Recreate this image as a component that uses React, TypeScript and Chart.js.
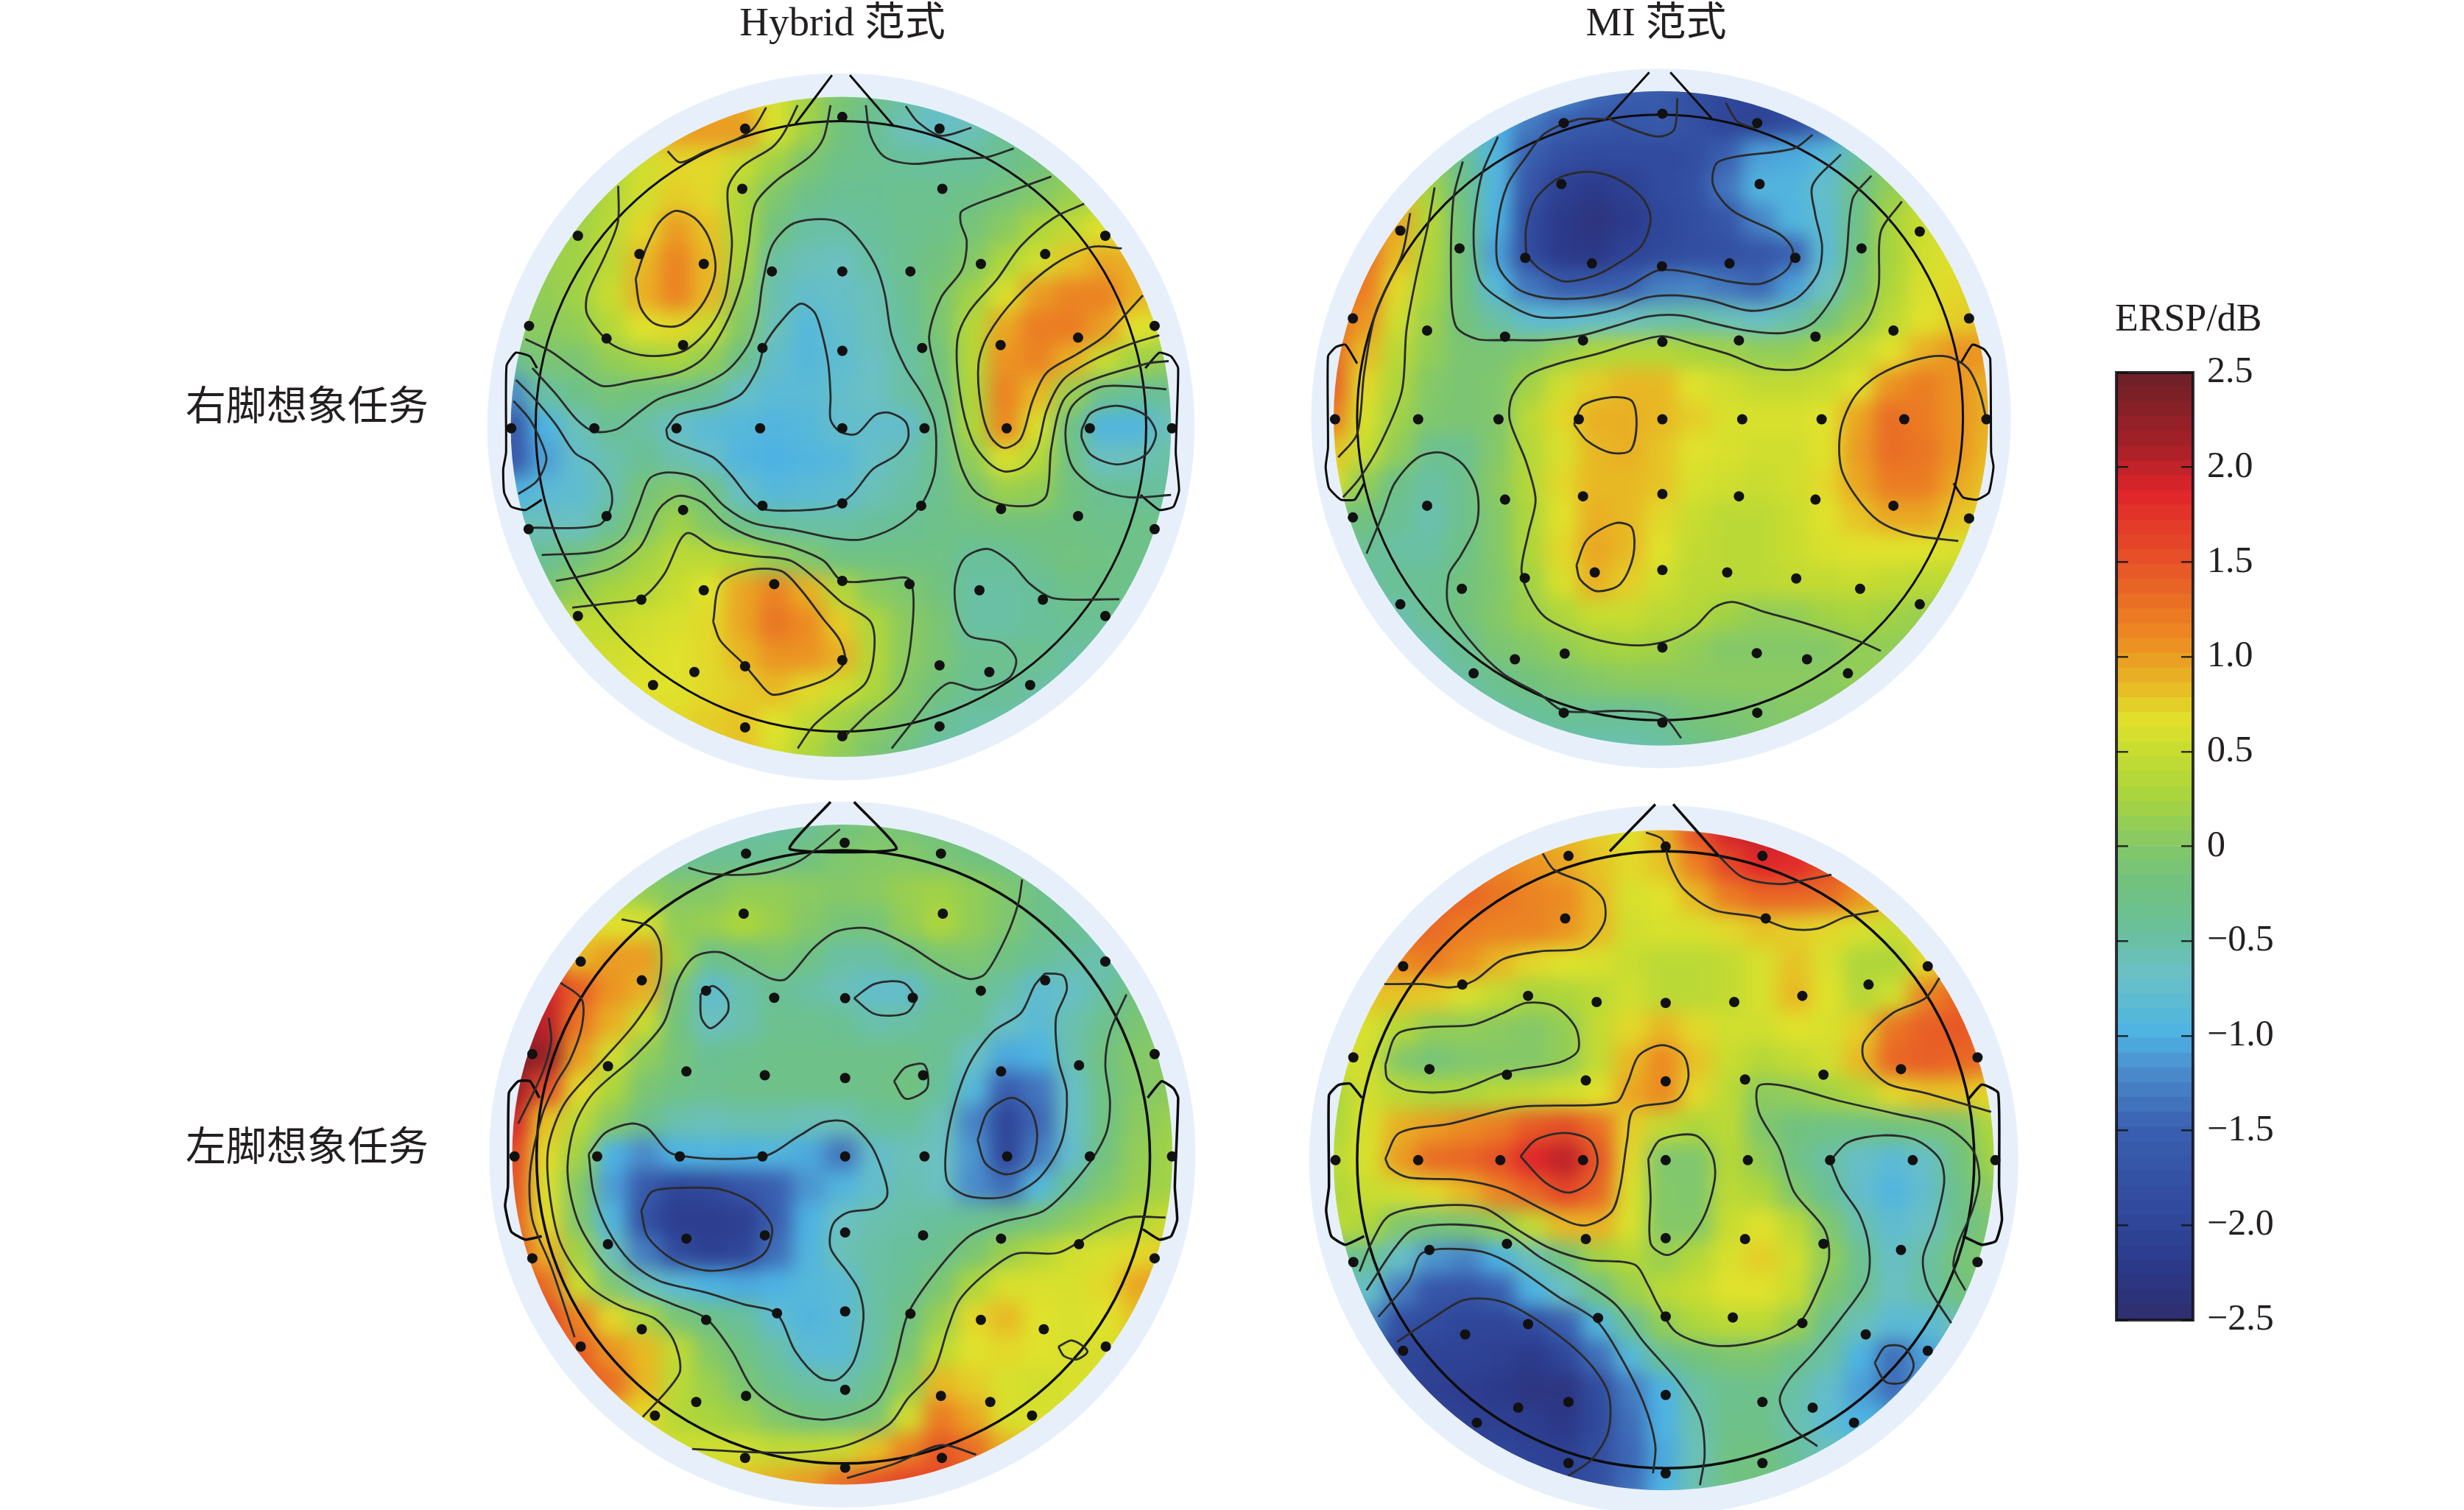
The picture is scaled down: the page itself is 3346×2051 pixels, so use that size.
import React, { useEffect, useRef } from "react";
import { Chart, registerables } from "chart.js";
Chart.register(...registerables);

/* ---------- ERSP values (dB), 21 x 21 samples ---------- */
const hybridRightErsp = [
[.8,.8,.8,.8,.8,.9,.9,.9,.6,.2,-.1,-.3,-.5,-.7,-.7,-.5,-.4,-.4,-.4,-.4,-.4],
[.5,.5,.5,.6,.8,1,1,1,.6,.2,-.2,-.4,-.6,-.7,-.6,-.4,-.3,-.2,-.2,-.2,-.2],
[.2,.2,.2,.3,.55,.7,.7,.5,.2,-.1,-.3,-.35,-.45,-.45,-.45,-.35,-.2,0,.1,.1,.1],
[.1,.1,.1,.35,.55,.75,.7,.3,-.05,-.3,-.4,-.4,-.35,-.35,-.3,-.15,0,.15,.3,.3,.3],
[0,.1,.2,.4,.7,1,.8,.3,-.2,-.5,-.5,-.45,-.35,-.3,-.15,.05,.3,.45,.65,.7,.7],
[.1,.15,.2,.4,.85,1.15,.85,.25,-.5,-.6,-.65,-.5,-.35,-.2,0,.3,.55,.8,.95,.9,.8],
[.1,.1,.2,.5,.9,1.15,.85,.1,-.55,-.75,-.7,-.6,-.4,-.1,.2,.6,1,1.15,1.15,.9,.7],
[.1,.05,.1,.35,.65,.7,.5,0,-.6,-.9,-.75,-.6,-.45,-.1,.35,.95,1.2,1.2,1,.65,.55],
[-.4,-.1,-.1,.1,.2,.25,.1,-.3,-.75,-.9,-.8,-.65,-.5,-.2,.35,1.05,1.15,.9,.5,.2,.1],
[-1.2,-.5,-.3,-.15,-.2,-.3,-.4,-.7,-.85,-.85,-.75,-.65,-.5,-.3,.3,1.15,.85,.15,-.3,-.45,-.4],
[-1.7,-1,-.6,-.4,-.5,-.7,-.85,-.9,-.95,-.9,-.75,-.75,-.75,-.35,.3,1.1,.6,-.25,-.95,-.95,-.6],
[-1.7,-1.1,-.75,-.55,-.4,-.55,-.7,-.95,-1,-.95,-.9,-.7,-.55,-.35,.1,.6,.35,-.25,-.65,-.6,-.5],
[-1,-.85,-.8,-.55,-.15,0,-.2,-.7,-.9,-.85,-.8,-.6,-.5,-.35,-.1,.15,.1,-.2,-.4,-.45,-.45],
[-.6,-.6,-.65,-.4,-.05,.2,0,-.3,-.45,-.5,-.5,-.45,-.4,-.3,-.25,-.2,-.2,-.25,-.3,-.3,-.3],
[-.4,-.4,-.2,0,.2,.4,.4,.3,.1,-.05,-.25,-.25,-.25,-.25,-.45,-.45,-.3,-.2,-.25,-.3,-.3],
[-.1,-.1,.1,.25,.35,.5,.65,.95,1.15,.9,.35,.05,-.05,-.2,-.5,-.5,-.45,-.3,-.3,-.3,-.3],
[.4,.4,.45,.45,.55,.6,.7,.95,1.25,1.1,.75,.3,.05,-.1,-.5,-.5,-.45,-.4,-.4,-.4,-.4],
[.5,.5,.5,.55,.6,.65,.7,.85,1.05,1.05,.9,.35,.05,-.1,-.35,-.35,-.35,-.5,-.5,-.5,-.5],
[.6,.6,.6,.6,.65,.65,.7,.75,.85,.7,.55,.3,0,-.2,-.4,-.4,-.5,-.5,-.5,-.5,-.5],
[.7,.7,.7,.7,.7,.7,.75,.8,.65,.45,.2,.05,-.1,-.4,-.5,-.5,-.5,-.5,-.5,-.5,-.5],
[.7,.7,.7,.7,.7,.7,.75,.8,.6,.3,.1,-.1,-.3,-.5,-.5,-.5,-.5,-.5,-.5,-.5,-.5],
];
const miRightErsp = [
[-1,-1,-1,-1,-1,-1,-1,-1.1,-1.4,-1.5,-1.6,-1.8,-2,-2,-1.9,-1.5,-1,-.6,-.3,0,0],
[.5,.5,.3,-.3,-.7,-1,-1.3,-1.5,-1.65,-1.7,-1.6,-1.8,-2,-2.05,-1.9,-1.5,-1,-.5,-.2,0,0],
[.9,.9,.7,.1,-.4,-.95,-1.5,-1.8,-1.9,-1.9,-1.9,-1.85,-1.5,-1.1,-1.05,-.9,-.5,-.05,.2,.3,.3],
[1.3,1.1,.8,.2,-.3,-.95,-1.7,-2.1,-2.2,-2.1,-1.9,-1.8,-1.35,-.95,-.95,-.75,-.3,.1,.4,.5,.5],
[1.4,1.25,.95,.35,-.2,-1,-1.9,-2.2,-2.35,-2.2,-2,-1.85,-1.7,-1.25,-.95,-.8,-.3,.25,.5,.6,.6],
[1.5,1.3,.85,.3,-.2,-1.1,-1.9,-2.2,-2.25,-2.05,-1.95,-1.85,-1.8,-1.7,-1.5,-.85,-.2,.25,.55,.65,.7],
[1.4,1.2,.7,.25,-.2,-.9,-1.35,-1.6,-1.6,-1.5,-1.3,-1.25,-1.35,-1.45,-1.1,-.65,-.1,.3,.6,.7,.7],
[1.3,1.05,.55,.15,-.2,-.5,-.8,-.85,-.75,-.65,-.55,-.5,-.6,-.7,-.55,-.2,.1,.4,.65,.75,.8],
[1.3,.85,.4,.1,-.1,-.1,0,.15,.3,.35,.35,.25,.2,.1,.1,.25,.45,.65,.9,1.05,1.05],
[1.4,.7,.3,0,-.1,-.05,.2,.55,.75,.85,.85,.65,.55,.45,.45,.5,.65,1.05,1.2,1.05,.9],
[1.2,.6,.2,-.05,-.1,-.05,.4,.7,.9,.9,.85,.75,.6,.6,.6,.65,.95,1.3,1.2,1.05,.9],
[.8,.5,.1,-.35,-.35,0,.35,.6,.85,.9,.8,.65,.6,.55,.55,.65,1,1.3,1.25,1.05,.85],
[.6,.1,-.3,-.5,-.35,.05,.35,.7,.85,.85,.8,.6,.55,.5,.55,.7,.95,1.2,1.2,.95,.8],
[-.2,-.2,-.4,-.55,-.35,0,.3,.65,.9,.85,.7,.5,.4,.4,.5,.65,.8,.95,.95,.8,.7],
[-.4,-.4,-.5,-.5,-.3,0,.3,.7,.95,.85,.65,.45,.4,.4,.5,.6,.65,.65,.65,.6,.6],
[-.5,-.5,-.4,-.4,-.2,-.05,.2,.6,.9,.75,.55,.4,.4,.4,.45,.45,.5,.45,.4,.4,.4],
[-.6,-.6,-.55,-.4,-.2,0,.15,.3,.5,.5,.4,.35,.2,.1,.1,.2,.25,.2,.15,.15,.15],
[-.6,-.6,-.6,-.55,-.4,-.1,0,.1,.2,.25,.2,.1,0,0,0,0,.1,.1,.1,.1,.1],
[-.6,-.6,-.6,-.6,-.5,-.35,-.2,-.1,0,.05,.05,.05,.05,.05,.05,.05,.1,.1,.1,.1,.1],
[-.6,-.6,-.6,-.6,-.6,-.5,-.45,-.4,-.4,-.4,-.35,-.15,-.1,-.05,0,0,0,0,0,0,0],
[-.6,-.6,-.6,-.6,-.6,-.6,-.6,-.55,-.55,-.55,-.5,-.3,-.2,-.1,0,0,0,0,0,0,0],
];
const hybridLeftErsp = [
[-.4,-.4,-.4,-.4,-.4,-.4,-.4,-.5,-.5,-.4,-.2,-.1,-.15,-.25,-.3,-.3,-.3,-.3,-.3,-.3,-.3],
[-.2,-.2,-.2,-.2,-.3,-.4,-.4,-.4,-.35,-.2,-.05,0,0,-.1,-.2,-.3,-.35,-.35,-.3,-.3,-.3],
[.3,.3,.3,.3,.1,0,0,.1,.1,.05,0,.05,.15,.2,.1,-.05,-.3,-.4,-.4,-.4,-.4],
[.7,.7,.7,.65,.6,.1,.15,.3,.15,0,-.15,-.15,.1,.3,.1,-.05,-.3,-.4,-.4,-.4,-.4],
[1.1,1,.85,1,1,.2,-.3,-.2,-.1,-.25,-.5,-.5,-.3,-.1,-.05,-.25,-.4,-.5,-.55,-.4,-.3],
[2,1.9,1.4,1.05,.9,-.1,-.8,-.55,-.4,-.5,-.6,-.75,-.75,-.45,-.35,-.5,-.8,-.7,-.5,-.2,-.1],
[2.1,2,1.25,.9,.5,-.2,-.65,-.55,-.35,-.35,-.4,-.55,-.5,-.4,-.4,-.65,-.85,-.55,-.35,-.1,0],
[2.4,2.2,1,.55,.1,-.15,-.4,-.35,-.3,-.3,-.3,-.3,-.3,-.4,-.65,-1.05,-1,-.55,-.2,0,.05],
[2.2,1.6,.7,.3,-.1,-.25,-.35,-.3,-.3,-.3,-.3,-.3,-.2,-.45,-.9,-1.55,-1.35,-.7,-.25,0,.05],
[1.9,.8,.4,.05,-.3,-.55,-.6,-.55,-.55,-.6,-.6,-.45,-.45,-.6,-1.25,-2,-1.45,-.7,-.25,.05,.15],
[1.6,.7,.2,-1,-1.2,-1,-.95,-1,-.95,-1.05,-1.35,-.75,-.6,-.65,-1.15,-2,-1.3,-.75,-.2,.1,.2],
[1.5,.6,0,-1.1,-1.6,-2,-1.95,-1.7,-1.5,-1.15,-.95,-.75,-.55,-.65,-1.2,-1.4,-.9,-.4,-.05,.15,.2],
[1.4,.7,-.05,-.95,-1.8,-2.15,-2.15,-2.1,-1.55,-1,-.65,-.55,-.5,-.45,-.4,-.3,-.15,.05,.2,.35,.5],
[1.5,.9,.2,-.6,-1.3,-1.9,-2.1,-2,-1.4,-.95,-.6,-.5,-.45,-.35,-.1,.15,.35,.55,.6,.7,.75],
[1.7,1.3,.5,-.05,-.6,-.85,-1,-1.05,-1,-.9,-.85,-.5,-.4,-.1,.3,.6,.6,.6,.7,.95,1],
[1.8,1.6,1.15,.7,.3,-.1,-.3,-.45,-.8,-.95,-.85,-.5,-.25,.15,.7,.85,.65,.6,.65,.8,.9],
[1.7,1.5,1.4,1.05,.85,.45,0,-.25,-.5,-.85,-.85,-.5,-.1,.4,.65,.7,.65,.6,.6,.6,.6],
[1.5,1.5,1.5,1.3,.85,.4,.15,-.1,-.35,-.5,-.55,-.35,.1,.85,.75,.6,.55,.6,.6,.6,.6],
[.8,.8,.8,.8,.7,.35,.25,.15,-.05,-.2,-.25,-.1,.55,1.2,.95,.6,.6,.6,.6,.6,.6],
[.6,.6,.6,.6,.6,.55,.55,.55,.45,.45,.5,.8,1.15,1.45,1.3,.9,.7,.6,.6,.6,.6],
[.6,.6,.6,.6,.6,.6,.7,.8,.9,1,1.3,1.5,1.6,1.6,1.4,1,.7,.6,.6,.6,.6],
];
const miLeftErsp = [
[.9,.9,.9,.9,.9,.9,.9,.85,.75,.65,.9,1.5,1.9,2,1.9,1.7,1.5,1.4,1.4,1.4,1.4],
[1.2,1.2,1.2,1.2,1.25,1.15,1.05,.95,.8,.7,.8,1.2,1.6,1.85,1.8,1.55,1.4,1.3,1.3,1.3,1.3],
[1.4,1.4,1.4,1.4,1.35,1.25,1.15,1.1,.85,.6,.65,.85,1.2,1.35,1.35,1.3,1.05,.8,.7,.7,.7],
[1.4,1.4,1.4,1.3,1.2,1.15,1.15,1.05,.85,.55,.6,.6,.7,.8,.75,.7,.6,.5,.7,.9,.9],
[1,1.1,1.1,1.2,1.05,.85,.7,.65,.6,.5,.4,.4,.45,.6,.8,.6,.3,.3,.7,1,1],
[.8,.8,.8,.75,.6,.45,.25,.3,.4,.55,.4,.4,.45,.6,.85,.65,.35,.55,1.15,1.35,1.3],
[.6,.6,.35,.1,.1,.05,0,.1,.45,.7,.85,.7,.55,.55,.65,.6,.75,1.25,1.4,1.45,1.4],
[.6,.55,0,-.15,-.05,0,0,.1,.45,.85,1.1,.8,.5,.35,.45,.55,.85,1.35,1.4,1.35,1.25],
[.3,.55,.4,.3,.3,.4,.45,.55,.65,.95,1.1,.7,.4,.05,.1,.2,.35,.7,.8,.8,.7],
[.3,.6,.9,1,1.1,1.2,1.45,1.55,1.3,.75,.45,.3,.4,-.05,-.2,-.25,-.25,-.2,-.15,-.1,.3],
[.4,.6,1,1.3,1.35,1.5,1.85,2,1.5,.7,-.05,-.05,.35,.1,-.25,-.5,-.7,-.85,-.7,-.2,.2],
[.3,.5,.55,.7,.85,1.15,1.35,1.6,1.35,.6,0,-.05,.4,.3,-.05,-.4,-.75,-.95,-.75,-.3,.05],
[.4,.3,-.05,-.15,-.1,.1,.45,.85,.9,.6,0,0,.5,.65,.4,-.05,-.55,-.8,-.65,-.3,-.1],
[-.4,-.4,-.7,-1.15,-1.25,-1,-.6,-.2,.2,.35,.15,.35,.6,.75,.55,.1,-.35,-.7,-.5,-.15,0],
[-.7,-.7,-1.3,-1.7,-1.75,-1.5,-1,-.65,-.25,.15,.4,.5,.65,.65,.5,-.05,-.35,-.65,-.5,-.2,-.1],
[-1,-1.2,-1.85,-1.9,-2,-2,-1.9,-1.5,-.95,-.4,.1,.3,.4,.4,.15,-.35,-.6,-.85,-.85,-.6,-.3],
[-1.9,-1.9,-2,-2.05,-2.05,-2.1,-2.2,-2,-1.4,-.9,-.4,-.2,-.1,-.1,-.3,-.5,-1,-1.4,-1.1,-.8,-.8],
[-2,-2,-2.05,-2.1,-2.15,-2.2,-2.3,-2.3,-1.9,-1.3,-1,-.5,-.35,-.3,-.5,-.75,-1.1,-1.4,-1.2,-1,-1],
[-2,-2,-2,-2,-2.1,-2.1,-2.15,-2.25,-1.95,-1.4,-1,-.55,-.3,-.3,-.55,-.8,-1,-1,-1,-1,-1],
[-2,-2,-2,-2,-2,-2,-2.05,-2.1,-1.85,-1.45,-1.05,-.6,-.25,-.2,-.45,-.6,-.7,-.7,-.7,-.7,-.7],
[-2,-2,-2,-2,-2,-2,-2,-2,-1.8,-1.4,-1,-.55,-.25,-.2,-.4,-.5,-.6,-.6,-.6,-.6,-.6],
];

/* ---------- electrodes, in head-map units ---------- */
const hybridRightElectrodes = [[790,155],[583,180],[997,180],[577,308],[1003,308],[227,408],[1350,408],[358,447],[1222,447],[495,468],[1085,468],[640,484],[790,484],[935,484],[123,600],[1455,600],[288,627],[1292,625],[451,641],[1127,641],[620,647],[790,653],[960,647],[85,818],[262,818],[437,818],[615,818],[790,818],[965,818],[1140,818],[1317,818],[1492,818],[451,992],[620,983],[790,978],[958,983],[1128,990],[288,1005],[1292,1005],[122,1033],[1455,1033],[790,1143],[933,1150],[645,1150],[495,1163],[1082,1163],[362,1183],[1217,1183],[227,1218],[1350,1218],[790,1312],[583,1325],[997,1323],[475,1337],[1103,1337],[387,1365],[1190,1365],[583,1455],[997,1453],[790,1474]];
const miRightElectrodes = [[780,148],[570,168],[982,168],[565,298],[987,298],[222,397],[1328,399],[348,435],[1204,435],[488,455],[1063,455],[630,467],[779,473],[923,467],[121,584],[1433,584],[279,610],[1272,610],[445,623],[1106,623],[611,631],[780,634],[943,631],[83,799],[260,799],[431,799],[602,799],[780,799],[950,799],[1119,799],[1295,799],[1470,799],[445,970],[611,963],[780,958],[943,963],[1106,970],[279,983],[1272,983],[121,1008],[1433,1010],[780,1120],[918,1125],[487,1137],[636,1125],[1065,1138],[353,1160],[1201,1160],[222,1193],[1328,1193],[780,1285],[572,1298],[981,1297],[466,1310],[1088,1310],[378,1340],[1175,1340],[570,1424],[982,1424],[780,1445]];
const hybridLeftElectrodes = [[795,147],[585,170],[1000,170],[580,298],[1004,298],[233,400],[1350,400],[363,440],[1222,440],[500,462],[1085,462],[645,477],[796,478],[940,477],[130,597],[1455,597],[291,623],[1294,621],[458,634],[1128,634],[625,642],[796,648],[962,642],[92,815],[268,815],[444,815],[620,815],[796,815],[965,815],[1141,815],[1317,815],[1492,815],[458,990],[625,983],[796,977],[962,983],[1128,990],[291,1002],[1294,1002],[130,1032],[1455,1032],[796,1145],[935,1150],[651,1149],[500,1163],[1085,1163],[363,1183],[1219,1183],[233,1220],[1351,1220],[796,1312],[585,1325],[1000,1325],[479,1338],[1105,1338],[391,1367],[1194,1367],[583,1457],[1002,1457],[796,1478]];
const miLeftElectrodes = [[787,155],[580,175],[993,175],[573,308],[1000,308],[228,410],[1345,410],[354,449],[1219,449],[494,473],[1078,473],[640,486],[787,488],[933,486],[122,604],[1451,604],[284,629],[1288,629],[449,641],[1123,641],[617,653],[787,655],[956,651],[84,823],[260,823],[435,823],[611,823],[787,823],[962,823],[1137,823],[1313,823],[1489,823],[449,1001],[617,991],[787,989],[956,991],[1123,1001],[284,1014],[1288,1014],[122,1040],[1451,1040],[787,1156],[930,1158],[643,1159],[494,1172],[1078,1170],[360,1194],[1213,1194],[228,1229],[1345,1229],[787,1323],[580,1338],[993,1338],[473,1350],[1100,1350],[385,1382],[1188,1382],[580,1468],[993,1468],[787,1490]];

/* ---------- iso-contours, in head-map units ---------- */
const hybridRightContours = [
[[418,228],[445,252],[500,228],[560,205],[600,180],[628,135]],
[[313,302],[312,380],[285,450],[248,530],[245,570],[262,600],[300,640],[360,662],[420,662],[462,648],[510,600],[540,540],[550,480],[555,420],[546,310],[575,262],[640,220],[665,190],[695,130]],
[[115,628],[170,655],[225,695],[280,728],[345,718],[440,700],[495,668],[540,600],[575,510],[590,430],[605,340],[650,290],[720,240],[750,200],[765,130]],
[[130,690],[180,745],[225,800],[262,825],[310,820],[350,790],[400,755],[480,730],[545,695],[590,640],[610,580],[620,510],[640,430],[680,385],[730,373],[780,378],[820,410],[860,470],[880,530],[895,620],[925,690],[960,745],[985,800],[990,850],[985,920],[955,985],[900,1030],[830,1055],[770,1052],[690,1035],[600,1020],[540,985],[480,925],[420,912],[380,925],[355,985],[325,1050],[270,1080],[150,1088]],
[[125,1030],[270,1025],[298,985],[295,940],[260,895],[220,870],[180,810],[130,750],[95,715]],
[[90,760],[125,800],[150,850],[160,885],[140,930],[100,958]],
[[415,820],[440,790],[520,770],[575,745],[610,690],[625,640],[660,590],[700,553],[730,570],[745,610],[760,680],[765,750],[765,800],[785,825],[820,830],[860,790],[890,785],[925,805],[930,840],[905,875],[855,905],[810,960],[770,985],[700,993],[620,990],[590,965],[555,920],[515,880],[450,855],[420,840],[415,820]],
[[180,1143],[225,1135],[300,1115],[360,1070],[400,990],[440,962],[490,975],[540,1020],[600,1050],[680,1070],[750,1100],[790,1143],[880,1140],[933,1140],[940,1230],[915,1360],[840,1430],[790,1480]],
[[215,1200],[300,1190],[362,1180],[410,1130],[458,1042],[520,1075],[600,1090],[680,1100],[740,1145],[790,1190],[850,1230],[858,1290],[840,1360],[790,1400],[730,1450],[695,1500]],
[[515,1230],[530,1150],[590,1120],[660,1122],[700,1160],[750,1225],[785,1270],[795,1315],[760,1350],[690,1375],[640,1385],[605,1350],[580,1320],[530,1270],[515,1230]],
[[895,1500],[950,1430],[990,1380],[1020,1360],[1080,1375],[1145,1350],[1160,1310],[1130,1275],[1060,1260],[1035,1215],[1030,1150],[1050,1095],[1100,1075],[1150,1105],[1190,1150],[1240,1180],[1380,1182]],
[[840,130],[850,195],[880,240],[940,255],[1030,245],[1100,240],[1155,222]],
[[925,132],[950,165],[1000,195],[1065,178]],
[[1235,282],[1130,320],[1045,355],[1042,380],[1055,420],[1045,480],[1000,540],[975,620],[985,680],[1010,760],[1025,830],[1045,905],[1075,955],[1130,980],[1195,982],[1225,960],[1235,860],[1260,760],[1310,720],[1440,680],[1485,675]],
[[1305,340],[1240,370],[1170,430],[1120,500],[1060,570],[1035,630],[1040,740],[1065,840],[1100,890],[1135,910],[1175,900],[1205,860],[1225,780],[1260,715],[1320,675],[1400,640],[1465,620]],
[[1385,435],[1320,432],[1240,470],[1160,540],[1100,620],[1080,680],[1085,770],[1105,835],[1135,860],[1170,840],[1195,760],[1225,700],[1290,660],[1350,620],[1430,535]],
[[1480,735],[1420,730],[1340,730],[1280,770],[1265,830],[1280,900],[1330,945],[1400,965],[1490,960]],
[[1300,820],[1320,785],[1375,770],[1435,790],[1458,830],[1435,875],[1375,895],[1320,875],[1300,840],[1300,820]],
[[350,500],[370,440],[400,380],[435,355],[475,370],[505,410],[520,470],[510,520],[480,570],[440,600],[390,595],[360,560],[350,500]],
];
const miRightContours = [
[[430,197],[395,280],[378,400],[390,500],[430,540],[510,580],[600,580],[680,565],[745,540],[810,535],[880,545],[970,568],[1060,545],[1110,490],[1120,430],[1105,360],[1100,300],[1160,235]],
[[355,250],[335,330],[330,500],[340,600],[385,628],[445,630],[530,630],[610,620],[680,600],[750,580],[820,578],[890,595],[960,610],[1040,615],[1105,590],[1165,490],[1185,330],[1225,280]],
[[295,305],[280,390],[255,500],[235,610],[225,740],[180,850],[135,925],[100,965]],
[[243,360],[225,450],[170,570],[145,700],[130,830],[90,880]],
[[1290,335],[1245,400],[1240,520],[1215,590],[1150,650],[1080,690],[1000,690],[920,660],[850,640],[780,622],[720,635],[640,660],[560,680],[495,705],[460,750],[455,800],[490,890],[510,970],[495,1040],[480,1120],[495,1170],[530,1220],[600,1255],[670,1275],[740,1280],[800,1268],[850,1240],[890,1200],[930,1188],[1000,1210],[1090,1235],[1195,1270],[1245,1292]],
[[1100,193],[1060,222],[900,250],[888,300],[930,355],[1030,405],[1058,440],[1045,480],[990,510],[920,505],[830,485],[770,482],[700,520],[620,540],[530,540],[470,520],[430,470],[430,380],[450,300],[490,240],[530,190],[600,160],[660,160]],
[[490,450],[490,390],[510,330],[560,285],[620,272],[680,285],[735,325],[755,370],[735,430],[680,470],[630,495],[570,505],[520,480],[490,450]],
[[660,155],[700,175],[770,197],[805,182],[812,115]],
[[915,125],[940,165],[980,180]],
[[592,810],[610,770],[670,752],[715,760],[725,810],[712,865],[670,870],[620,845],[592,810]],
[[597,1110],[620,1055],[680,1020],[715,1030],[718,1090],[690,1150],[640,1165],[605,1140],[597,1110]],
[[1410,1058],[1310,1045],[1240,1015],[1190,960],[1160,900],[1160,820],[1190,750],[1240,705],[1320,672],[1385,665],[1430,690],[1455,740],[1470,800]],
[[150,1085],[185,1000],[210,935],[260,880],[310,870],[355,895],[385,950],[385,1020],[350,1090],[325,1130],[325,1200],[370,1270],[440,1340],[520,1385],[570,1420],[700,1420],[780,1430],[820,1478]],
];
const hybridLeftContours = [
[[1478,945],[1400,945],[1330,975],[1250,1020],[1160,1022],[1100,1060],[1040,1120],[1015,1180],[985,1270],[930,1330],[890,1385],[800,1430],[700,1445],[600,1445],[470,1438]],
[[1395,470],[1360,550],[1350,620],[1360,700],[1350,770],[1300,850],[1220,930],[1130,955],[1060,985],[990,1060],[930,1150],[900,1260],[860,1340],[760,1375],[670,1360],[600,1310],[555,1230],[500,1160],[430,1130],[360,1100],[290,1050],[230,960],[205,850],[220,750],[260,680],[350,600],[410,530],[440,440],[475,390],[530,380],[590,410],[640,437],[670,437],[730,370],[780,335],[850,330],[930,365],[1000,410],[1060,437],[1095,425],[1140,345],[1165,275],[1173,225]],
[[320,310],[380,325],[403,365],[398,450],[350,530],[280,610],[200,700],[165,790],[165,880],[190,1000],[250,1090],[320,1135],[390,1160],[430,1205],[445,1270],[420,1310],[365,1370]],
[[190,445],[235,480],[235,540],[210,610],[180,660],[150,730],[125,850],[130,950],[170,1050],[220,1200]],
[[165,520],[170,570],[150,640],[100,745]],
[[250,810],[285,765],[340,745],[375,755],[430,810],[620,815],[700,770],[750,742],[800,742],[850,790],[880,860],[885,900],[860,925],[800,935],[770,960],[765,1010],[800,1060],[825,1100],[835,1160],[815,1250],[780,1290],[740,1285],[690,1230],[650,1150],[580,1130],[500,1105],[400,1080],[340,1040],[290,970],[260,890],[250,810]],
[[362,930],[385,890],[450,882],[530,885],[600,915],[640,965],[625,1020],[570,1050],[500,1058],[430,1035],[375,985],[362,930]],
[[1222,425],[1260,430],[1268,460],[1245,520],[1250,610],[1268,680],[1258,780],[1210,860],[1140,900],[1060,900],[1015,870],[1010,810],[1025,720],[1060,620],[1110,550],[1170,510],[1200,450],[1222,425]],
[[1078,780],[1100,720],[1150,690],[1190,715],[1205,770],[1190,830],[1140,853],[1095,830],[1078,780]],
[[488,470],[515,452],[545,480],[545,510],[510,542],[490,520],[488,470]],
[[815,478],[860,447],[920,445],[945,480],[925,510],[860,512],[815,478]],
[[900,655],[925,625],[965,620],[970,670],[925,692],[900,655]],
[[1250,1220],[1280,1207],[1312,1230],[1290,1247],[1262,1240],[1250,1220]],
[[462,200],[510,213],[620,212],[700,185],[785,118]],
[[800,1500],[900,1470],[1000,1430],[1075,1450]],
];
const miLeftContours = [
[[525,170],[550,205],[620,235],[655,270],[655,320],[610,370],[520,378],[440,395],[380,440],[330,455],[270,448],[188,448]],
[[745,125],[780,140],[795,190],[825,245],[890,290],[980,305],[1050,330],[1110,330],[1170,305],[1240,292]],
[[900,175],[950,220],[1030,235],[1090,225],[1140,215]],
[[1370,435],[1340,478],[1270,510],[1210,570],[1210,610],[1260,660],[1340,680],[1480,720]],
[[190,620],[215,555],[280,540],[375,535],[440,510],[490,488],[550,495],[595,540],[600,590],[560,615],[450,635],[340,675],[240,675],[195,650],[190,620]],
[[190,820],[220,765],[330,745],[470,710],[680,700],[705,660],[730,600],[780,578],[825,600],[835,650],[810,695],[720,715],[705,780],[690,880],[670,935],[610,962],[530,930],[440,885],[350,865],[240,860],[200,840],[190,820]],
[[478,815],[510,780],[570,765],[625,780],[642,825],[625,870],[580,892],[530,870],[478,815]],
[[750,820],[775,780],[850,770],[885,810],[892,860],[870,940],[830,1000],[790,1025],[755,1000],[755,900],[750,820]],
[[135,1060],[160,1000],[200,940],[300,920],[400,925],[470,970],[540,1010],[620,1035],[720,1045],[750,1090],[770,1130],[810,1190],[890,1218],[980,1210],[1070,1170],[1115,1090],[1135,1030],[1125,970],[1060,890],[1030,800],[985,720],[985,665],[1040,665],[1150,695],[1280,725],[1380,750],[1440,800],[1455,860],[1440,930],[1410,1000],[1400,1050],[1425,1100]],
[[150,1100],[210,1010],[250,970],[340,960],[440,975],[520,1030],[600,1075],[680,1130],[740,1210],[810,1290],[860,1370],[870,1450],[860,1515]],
[[175,1157],[240,1080],[270,1020],[380,1015],[450,1040],[560,1115],[640,1165],[690,1240],[740,1340],[765,1430],[760,1490]],
[[215,1210],[290,1160],[360,1120],[440,1125],[530,1175],[620,1250],[665,1320],[665,1400],[630,1460],[580,1495]],
[[1137,825],[1175,785],[1250,770],[1320,780],[1370,820],[1380,870],[1360,960],[1335,1030],[1345,1090],[1395,1170]],
[[1137,825],[1160,880],[1200,940],[1220,1010],[1215,1080],[1160,1160],[1100,1235],[1050,1290],[1030,1335],[1060,1395],[1110,1432]],
[[1232,1255],[1255,1220],[1295,1222],[1315,1260],[1295,1295],[1255,1295],[1232,1255]],
];

/* ---------- head outlines: nose and ears ---------- */
const hybridRightOutline = [
[[768,66],[690,170]],[[806,66],[900,175]],
[[140,690],[125,665],[95,657],[75,685],[74,870],[68,905],[70,955],[85,985],[115,992],[150,970]],
[[1435,690],[1465,657],[1490,665],[1505,690],[1500,870],[1507,950],[1495,985],[1465,992],[1425,960]],
];
const miRightOutline = [
[[752,60],[663,158]],[[797,60],[885,158]],
[[130,680],[105,640],[85,645],[68,665],[68,860],[63,900],[70,945],[95,970],[125,970],[145,935]],
[[1415,680],[1440,640],[1465,650],[1478,670],[1480,870],[1485,900],[1475,955],[1450,970],[1420,965],[1400,935]],
];
const hybridLeftOutline = [
[[765,60],[678,160],[905,160],[815,60]],
[[145,690],[125,655],[100,655],[80,680],[78,880],[72,920],[85,975],[115,992],[150,985]],
[[1440,690],[1470,655],[1495,670],[1505,690],[1498,880],[1503,950],[1490,985],[1465,992],[1430,970]],
];
const miLeftOutline = [
[[765,65],[668,165]],[[803,65],[900,175]],
[[140,690],[115,660],[90,663],[70,685],[70,880],[64,930],[75,985],[105,1003],[145,985]],
[[1430,695],[1460,662],[1495,680],[1497,880],[1503,950],[1490,995],[1460,1003],[1420,985]],
];

/* ---------- labels ---------- */
const columnTitles = ["Hybrid 范式", "MI 范式"];
const rowTitles = ["右脚想象任务", "左脚想象任务"];
const colorbarTitle = "ERSP/dB";
const colorbarMin = -2.5;
const colorbarMax = 2.5;
const colorbarStep = 0.5;

/* ---------- colour map ---------- */
const paletteValues = [-2.5,-2.2,-2,-1.5,-1.2,-1,-.8,-.65,-.45,-.2,0,.25,.5,.65,.85,1.1,1.4,1.85,2.1,2.5];
const paletteColors = ["#2e2f6e","#2c3a8b","#2f4699","#3a5fb0","#4a8bca","#4db3e3","#5fbcd0","#6bc0c2","#69c09a","#72c27e","#84c868","#a8d43e","#c8dc30","#e0e22c","#e8b824","#ec8a22","#e85f26","#e0262a","#a82028","#6a2028"];

function hexRgb(h: string) {
  return [parseInt(h.slice(1, 3), 16), parseInt(h.slice(3, 5), 16), parseInt(h.slice(5, 7), 16)];
}
function colorOf(v: number) {
  const c = Math.max(paletteValues[0], Math.min(paletteValues[paletteValues.length - 1], v));
  let i = 0;
  while (i < paletteValues.length - 2 && c > paletteValues[i + 1]) i++;
  const t = (c - paletteValues[i]) / (paletteValues[i + 1] - paletteValues[i]);
  const a = hexRgb(paletteColors[i]);
  const b = hexRgb(paletteColors[i + 1]);
  return `rgb(${a.map((x, k) => Math.round(x + (b[k] - x) * t)).join(",")})`;
}

/* ---------- layout ---------- */
const UNITS_PER_PX = 1.568;
const PAD = 50;
const SIZE = 1100;
const CELL = 70;
const heads = [
  { left: 640, top: 60, cx: 787, cy: 815, disc: 703, ring: 753, skull: 650, skullC: [787, 814], lw: 3, grid: hybridRightErsp, electrodes: hybridRightElectrodes, contours: hybridRightContours, outline: hybridRightOutline },
  { left: 1760, top: 60, cx: 777, cy: 797, disc: 697, ring: 745, skull: 645, skullC: [775, 795], lw: 3, grid: miRightErsp, electrodes: miRightElectrodes, contours: miRightContours, outline: miRightOutline },
  { left: 640, top: 1051, cx: 790, cy: 811, disc: 703, ring: 752, skull: 653, skullC: [792, 816], lw: 3.5, grid: hybridLeftErsp, electrodes: hybridLeftElectrodes, contours: hybridLeftContours, outline: hybridLeftOutline },
  { left: 1760, top: 1051, cx: 783, cy: 823, disc: 703, ring: 755, skull: 657, skullC: [787, 822], lw: 3.5, grid: miLeftErsp, electrodes: miLeftElectrodes, contours: miLeftContours, outline: miLeftOutline },
];

const px = (u: number) => u / UNITS_PER_PX;
const hiddenScales = {
  x: { type: "linear", display: false, min: -PAD * UNITS_PER_PX, max: (SIZE - PAD) * UNITS_PER_PX },
  y: { type: "linear", display: false, reverse: true, min: -PAD * UNITS_PER_PX, max: (SIZE - PAD) * UNITS_PER_PX },
};
const baseOptions: any = {
  animation: false,
  responsive: false,
  maintainAspectRatio: false,
  devicePixelRatio: 1,
  layout: { padding: 0, autoPadding: false },
  plugins: { legend: { display: false }, tooltip: { enabled: false }, title: { display: false } },
  events: [],
  scales: hiddenScales,
};

const toXY = (pts: number[][]) => pts.map(([x, y]) => ({ x, y }));

function HeadMap({ head }: { head: (typeof heads)[number] }) {
  const heatRef = useRef<HTMLCanvasElement>(null);
  const lineRef = useRef<HTMLCanvasElement>(null);
  useEffect(() => {
    const points: any[] = [];
    const colors: string[] = [];
    head.grid.forEach((row, i) =>
      row.forEach((v, j) => {
        points.push({ x: head.cx + (j - 10) * CELL, y: head.cy + (i - 10) * CELL });
        colors.push(colorOf(v));
      })
    );
    const heat = new Chart(heatRef.current!, {
      type: "scatter",
      data: {
        datasets: [
          {
            data: points,
            pointStyle: "rect",
            pointRadius: (px(CELL) + 2) / Math.SQRT2,
            pointBorderWidth: 0,
            pointBackgroundColor: colors,
          },
        ],
      },
      options: baseOptions,
    } as any);
    const lineDs = (pts: number[][], width: number, color: string, tension: number) => ({
      data: toXY(pts),
      showLine: true,
      fill: false,
      borderColor: color,
      borderWidth: width,
      tension,
      pointRadius: 0,
    });
    const lines = new Chart(lineRef.current!, {
      type: "scatter",
      data: {
        datasets: [
          {
            data: toXY(head.electrodes),
            pointStyle: "circle",
            pointRadius: 7,
            pointBorderWidth: 0,
            pointBackgroundColor: "#111",
          },
          ...head.contours.map((c) => lineDs(c, 2.8, "#2b2b2b", 0.3)),
          ...head.outline.map((c) => lineDs(c, head.lw, "#0c0c0c", 0.15)),
          {
            data: [{ x: head.skullC[0], y: head.skullC[1] }],
            pointStyle: "circle",
            pointRadius: px(head.skull),
            pointBorderWidth: head.lw,
            pointBorderColor: "#0c0c0c",
            pointBackgroundColor: "rgba(0,0,0,0)",
          },
          {
            data: [{ x: head.cx, y: head.cy }],
            pointStyle: "circle",
            pointRadius: px((head.disc + head.ring) / 2),
            pointBorderWidth: px(head.ring - head.disc),
            pointBorderColor: "#e7f0fa",
            pointBackgroundColor: "rgba(0,0,0,0)",
          },
        ],
      },
      options: baseOptions,
    } as any);
    return () => {
      heat.destroy();
      lines.destroy();
    };
  }, [head]);
  const cxPx = PAD + px(head.cx);
  const cyPx = PAD + px(head.cy);
  const layer: React.CSSProperties = { position: "absolute", left: 0, top: 0, width: SIZE, height: SIZE };
  return (
    <div style={{ position: "absolute", left: head.left - PAD, top: head.top - PAD, width: SIZE, height: SIZE }}>
      <div style={{ ...layer, clipPath: `circle(${px(head.disc) + 1}px at ${cxPx}px ${cyPx}px)` }}>
        <canvas ref={heatRef} width={SIZE} height={SIZE} style={{ ...layer, filter: "blur(13px)" }} />
      </div>
      <canvas ref={lineRef} width={SIZE} height={SIZE} style={layer} />
    </div>
  );
}

function Colorbar() {
  const ref = useRef<HTMLCanvasElement>(null);
  useEffect(() => {
    const bands = 64;
    const h = (colorbarMax - colorbarMin) / bands;
    const datasets = Array.from({ length: bands }, (_, i) => {
      const a = colorbarMin + i * h;
      return {
        data: [[a, a + h + 0.004]],
        backgroundColor: colorOf(a + h / 2),
        borderWidth: 0,
        barPercentage: 1,
        categoryPercentage: 1,
        grouped: false,
      };
    });
    const frame = {
      id: "frame",
      afterDatasetsDraw(c: any) {
        const { left, top, width, height } = c.chartArea;
        const g = c.ctx;
        g.save();
        g.strokeStyle = "rgba(15,15,25,0.85)";
        g.lineWidth = 4;
        g.strokeRect(left, top, width, height);
        g.restore();
      },
    };
    const chart = new Chart(ref.current!, {
      type: "bar",
      data: { labels: [colorbarTitle], datasets },
      options: {
        animation: false,
        responsive: false,
        maintainAspectRatio: false,
        devicePixelRatio: 1,
        events: [],
        layout: { autoPadding: false, padding: { left: 6, top: 35, bottom: 40, right: 0 } },
        plugins: { legend: { display: false }, tooltip: { enabled: false } },
        scales: {
          x: { display: false },
          y: {
            position: "right",
            min: colorbarMin,
            max: colorbarMax,
            afterFit: (s: any) => {
              s.width = 140;
            },
            border: { display: false, dash: [16, 72, 16, 0] },
            grid: { z: 1, color: "rgba(20,20,20,0.85)", lineWidth: 2.5, drawTicks: false },
            ticks: {
              stepSize: colorbarStep,
              padding: 19,
              color: "#231f20",
              font: { family: '"Liberation Serif", serif', size: 50 },
              callback: (v: any) => {
                const n = Number(v);
                if (Math.abs(n) < 1e-6) return "0";
                return (n < 0 ? "\u2212" : "") + Math.abs(n).toFixed(1);
              },
            },
          },
        },
      },
      plugins: [frame],
    } as any);
    return () => chart.destroy();
  }, []);
  return <canvas ref={ref} width={250} height={1385} style={{ position: "absolute", left: 2868, top: 457, width: 250, height: 1385 }} />;
}

const serif = '"Liberation Serif", "Noto Sans CJK SC", serif';
function Label({ x, y, text, center, size = 55 }: { x: number; y: number; text: string; center?: boolean; size?: number }) {
  return (
    <div
      style={{
        position: "absolute",
        left: x,
        top: y,
        transform: center ? "translateX(-50%)" : undefined,
        fontFamily: serif,
        fontSize: size,
        lineHeight: 1,
        color: "#231f20",
        whiteSpace: "nowrap",
      }}
    >
      {text}
    </div>
  );
}

export default function App() {
  return (
    <div style={{ position: "absolute", left: 0, top: 0, width: 3346, height: 2051, overflow: "hidden", background: "#fff" }}>
      {heads.map((h, i) => (
        <HeadMap key={i} head={h} />
      ))}
      <Colorbar />
      <Label x={1144} y={2} text={columnTitles[0]} center />
      <Label x={2249} y={2} text={columnTitles[1]} center />
      <Label x={252} y={524} text={rowTitles[0]} />
      <Label x={252} y={1530} text={rowTitles[1]} />
      <Label x={2872} y={406} text={colorbarTitle} size={52} />
    </div>
  );
}
